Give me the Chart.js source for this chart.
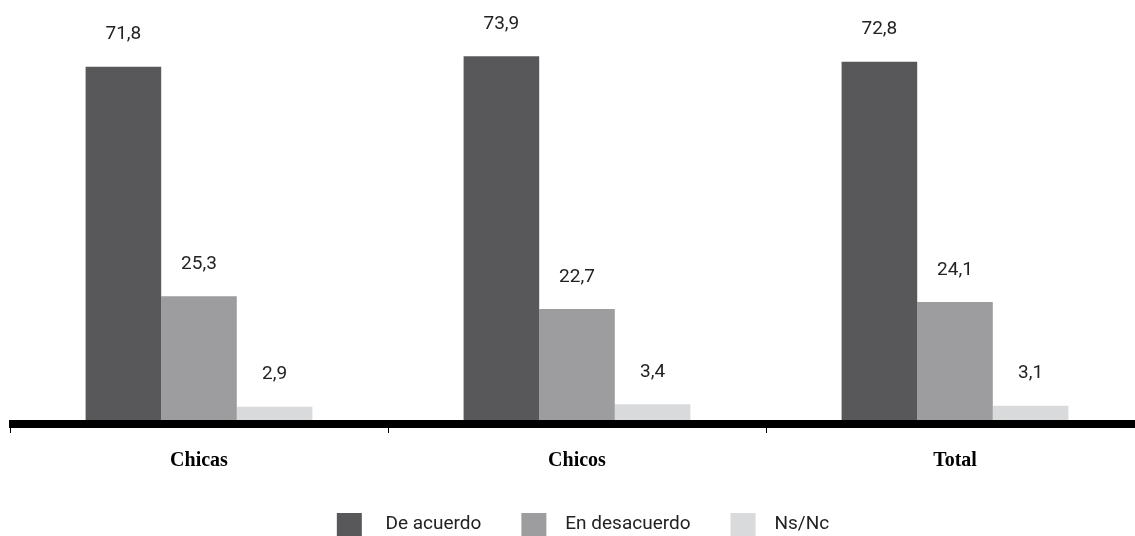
<!DOCTYPE html>
<html>
<head>
<meta charset="utf-8">
<script src="https://cdn.jsdelivr.net/npm/chart.js@4.4.0/dist/chart.umd.min.js"></script>
<style>
  html, body { margin: 0; padding: 0; background: #fff; overflow: hidden; }
  #wrap { width: 1135px; height: 536px; overflow: hidden; }
</style>
</head>
<body>
<div id="wrap"><canvas id="grafico" width="1156" height="536"></canvas></div>
<script>
// Datos del gráfico
const categorias = ['Chicas', 'Chicos', 'Total'];
const deAcuerdo = [71.8, 73.9, 72.8];
const enDesacuerdo = [25.3, 22.7, 24.1];
const nsNc = [2.9, 3.4, 3.1];
const series = ['De acuerdo', 'En desacuerdo', 'Ns/Nc'];
const colores = ['#58585a', '#9d9d9f', '#d9dadb'];

// Valores con coma decimal encima de cada barra
const etiquetasValor = {
  id: 'etiquetasValor',
  afterDatasetsDraw(chart) {
    const ctx = chart.ctx;
    ctx.save();
    ctx.font = '19px Roboto';
    ctx.fillStyle = '#222';
    ctx.textAlign = 'center';
    ctx.textBaseline = 'middle';
    chart.data.datasets.forEach((ds, i) => {
      chart.getDatasetMeta(i).data.forEach((bar, j) => {
        ctx.fillText(ds.data[j].toFixed(1).replace('.', ','), bar.x, bar.y - 32);
      });
    });
    // Línea gruesa del eje
    const area = chart.chartArea;
    ctx.fillStyle = '#000';
    ctx.fillRect(area.left - 1, area.bottom - 1, area.right - area.left + 1, 8);
    ctx.restore();
  }
};

new Chart(document.getElementById('grafico'), {
  type: 'bar',
  data: {
    labels: categorias,
    datasets: [
      { label: series[0], data: deAcuerdo, backgroundColor: colores[0] },
      { label: series[1], data: enDesacuerdo, backgroundColor: colores[1] },
      { label: series[2], data: nsNc, backgroundColor: colores[2] }
    ]
  },
  options: {
    responsive: false,
    animation: false,
    layout: { padding: { left: 10, right: 0, top: 0, bottom: -10 } },
    datasets: { bar: { categoryPercentage: 0.6, barPercentage: 1 } },
    plugins: {
      tooltip: { enabled: false },
      legend: {
        position: 'bottom',
        labels: {
          boxWidth: 25,
          boxHeight: 23,
          padding: 40,
          color: '#222',
          font: { family: 'Roboto', size: 19 },
          generateLabels(chart) {
            return Chart.defaults.plugins.legend.labels.generateLabels(chart).map((l, i) => {
              l.text = (i === 0 ? '   ' : '  ') + l.text;
              l.lineWidth = 0;
              return l;
            });
          }
        }
      }
    },
    scales: {
      x: {
        border: { display: false },
        grid: { offset: true, drawOnChartArea: false, tickLength: 12, color: '#000', lineWidth: 1 },
        ticks: { color: '#000', padding: 16, font: { family: 'Liberation Serif', size: 20, weight: 'bold' } },
        afterFit(scale) { scale.height = 52; }
      },
      y: {
        display: false,
        min: 0,
        max: 85.3
      },
      // eje vacío a la derecha (solo reserva espacio)
      margen: {
        position: 'right',
        grid: { display: false },
        border: { display: false },
        ticks: { display: false },
        afterFit(scale) { scale.width = 12; }
      }
    }
  },
  plugins: [etiquetasValor]
});
</script>
</body>
</html>
